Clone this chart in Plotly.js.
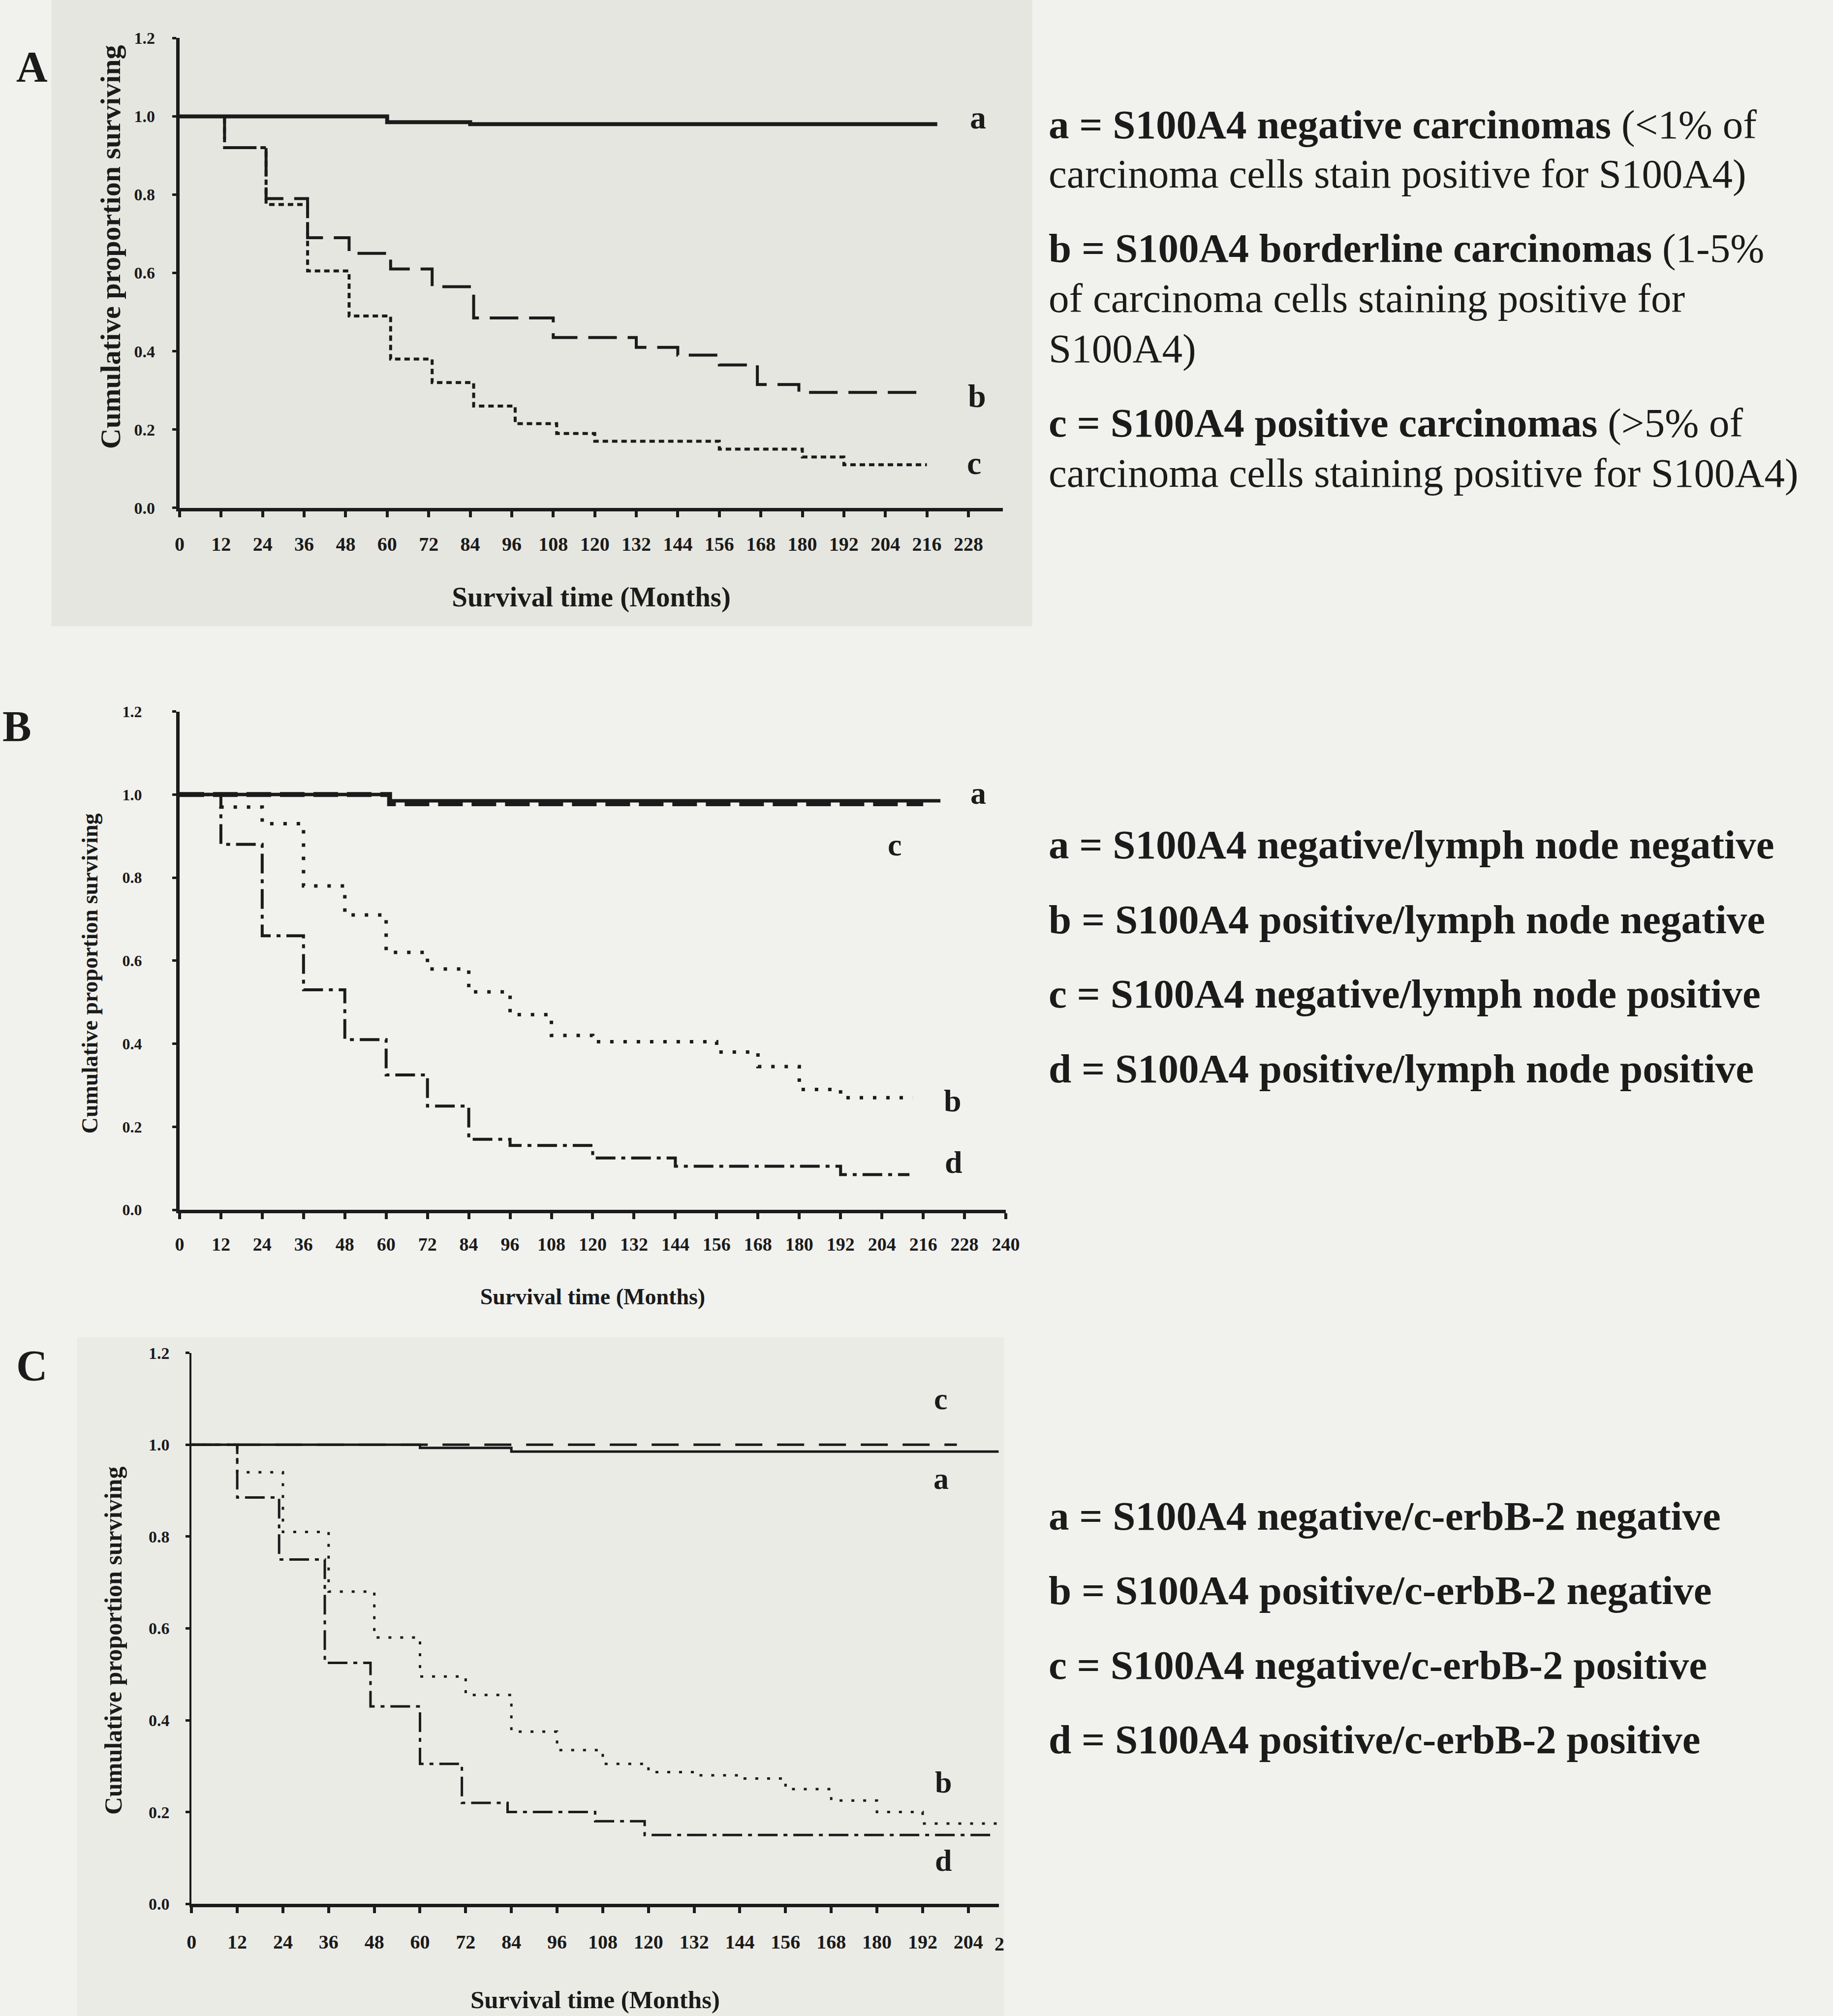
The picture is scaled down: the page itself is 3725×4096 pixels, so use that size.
<!DOCTYPE html>
<html><head><meta charset="utf-8">
<script src="https://cdn.plot.ly/plotly-3.0.1.min.js"></script>
<style>html,body{margin:0;padding:0;background:#f1f1ee;}#chart{width:3725px;height:4096px;}</style>
</head><body><div id="chart"></div>
<script>
// ---------- DATA ----------
// Panel A (months, cumulative proportion surviving)
var aA_t = [0, 60, 84, 219];
var aA_s = [1.0, 0.985, 0.98, 0.98];
var bA_t = [0, 13, 25, 37, 49, 61, 73, 85, 108, 132, 144, 156, 167, 179, 216];
var bA_s = [1.0, 0.92, 0.79, 0.69, 0.65, 0.61, 0.565, 0.485, 0.435, 0.41, 0.39, 0.365, 0.315, 0.295, 0.295];
var cA_t = [0, 13, 25, 37, 49, 61, 73, 85, 97, 109, 120, 156, 180, 192, 216];
var cA_s = [1.0, 0.92, 0.775, 0.605, 0.49, 0.38, 0.32, 0.26, 0.215, 0.19, 0.17, 0.15, 0.13, 0.11, 0.11];

// Panel B
var aB_t = [0, 61, 221];
var aB_s = [1.0, 0.985, 0.985];
var cB_t = [0, 61, 216];
var cB_s = [1.0, 0.978, 0.978];
var bB_t = [0, 12, 24, 36, 48, 60, 72, 84, 96, 108, 120, 156, 168, 180, 192, 213];
var bB_s = [1.0, 0.97, 0.93, 0.78, 0.71, 0.62, 0.58, 0.525, 0.47, 0.42, 0.405, 0.38, 0.345, 0.29, 0.27, 0.27];
var dB_t = [0, 12, 24, 36, 48, 60, 72, 84, 96, 120, 144, 192, 212];
var dB_s = [1.0, 0.88, 0.66, 0.53, 0.41, 0.325, 0.25, 0.17, 0.155, 0.125, 0.105, 0.085, 0.085];

// Panel C
var aC_t = [0, 60, 84, 212];
var aC_s = [1.0, 0.993, 0.985, 0.985];
var cC_t = [0, 201];
var cC_s = [1.0, 1.0];
var bC_t = [0, 12, 24, 36, 48, 60, 72, 84, 96, 108, 120, 132, 144, 156, 168, 180, 192, 212];
var bC_s = [1.0, 0.94, 0.81, 0.68, 0.58, 0.495, 0.455, 0.375, 0.335, 0.305, 0.287, 0.28, 0.273, 0.25, 0.225, 0.2, 0.175, 0.175];
var dC_t = [0, 12, 23, 35, 47, 60, 71, 83, 106, 119, 210];
var dC_s = [1.0, 0.885, 0.75, 0.525, 0.43, 0.305, 0.22, 0.2, 0.18, 0.15, 0.15];

// Tick labels
var monthTicksA = [0, 12, 24, 36, 48, 60, 72, 84, 96, 108, 120, 132, 144, 156, 168, 180, 192, 204, 216, 228];
var monthTicksB = [0, 12, 24, 36, 48, 60, 72, 84, 96, 108, 120, 132, 144, 156, 168, 180, 192, 204, 216, 228, 240];
var monthTicksC = [0, 12, 24, 36, 48, 60, 72, 84, 96, 108, 120, 132, 144, 156, 168, 180, 192, 204];
var yTicks = [0, 0.2, 0.4, 0.6, 0.8, 1.0, 1.2];
var yTickText = ['0.0', '0.2', '0.4', '0.6', '0.8', '1.0', '1.2'];

// Texts
var xTitle = 'Survival time (Months)';
var yTitle = 'Cumulative proportion surviving';
var legendA = [
  '<b>a = S100A4 negative carcinomas</b> (&lt;1% of',
  'carcinoma cells stain positive for S100A4)',
  '<b>b = S100A4 borderline carcinomas</b> (1-5%',
  'of carcinoma cells staining positive for',
  'S100A4)',
  '<b>c = S100A4 positive carcinomas</b> (&gt;5% of',
  'carcinoma cells staining positive for S100A4)'
];
var legendB = [
  '<b>a = S100A4 negative/lymph node negative</b>',
  '<b>b = S100A4 positive/lymph node negative</b>',
  '<b>c = S100A4 negative/lymph node positive</b>',
  '<b>d = S100A4 positive/lymph node positive</b>'
];
var legendC = [
  '<b>a = S100A4 negative/c-erbB-2 negative</b>',
  '<b>b = S100A4 positive/c-erbB-2 negative</b>',
  '<b>c = S100A4 negative/c-erbB-2 positive</b>',
  '<b>d = S100A4 positive/c-erbB-2 positive</b>'
];

// ---------- LAYOUT HELPERS (reference coords 1426 x 1568 -> paper) ----------
function px(x) { return x / 1426; }
function py(y) { return 1 - y / 1568; }
var FONT = 'Liberation Serif, Times New Roman, serif';
var INK = '#1b1b1b';

function step(t, s, xa, ya, dash, width) {
  return {x: t, y: s, xaxis: xa, yaxis: ya, mode: 'lines', type: 'scatter',
          line: {shape: 'hv', color: INK, width: width, dash: dash},
          showlegend: false, hoverinfo: 'skip'};
}

var traces = [
  step(aA_t, aA_s, 'x', 'y', 'solid', 8),
  step(bA_t, bA_s, 'x', 'y', '58px,22px', 6),
  step(cA_t, cA_s, 'x', 'y', '11px,8px', 6),

  step(cB_t, cB_s, 'x2', 'y2', '50px,18px', 10),
  step(aB_t, aB_s, 'x2', 'y2', 'solid', 7),
  step(bB_t, bB_s, 'x2', 'y2', '7px,20px', 7),
  step(dB_t, dB_s, 'x2', 'y2', '40px,12px,8px,12px', 6),

  step(aC_t, aC_s, 'x3', 'y3', 'solid', 5),
  step(cC_t, cC_s, 'x3', 'y3', '55px,30px', 5),
  step(bC_t, bC_s, 'x3', 'y3', '6px,18px', 5),
  step(dC_t, dC_s, 'x3', 'y3', '40px,12px,8px,12px', 5)
];

function xAxis(domain, range, ticks, anchor, tickSize, titleSize, standoff, lblStandoff, lw) {
  return {domain: domain, range: range, anchor: anchor, tickvals: ticks,
          showline: true, linecolor: INK, linewidth: lw, showgrid: false, zeroline: false,
          ticks: 'outside', ticklen: 12, tickwidth: 6, tickcolor: INK,
          ticklabelstandoff: lblStandoff,
          tickfont: {family: FONT, size: tickSize, color: INK, weight: 'bold'},
          title: {text: xTitle, standoff: standoff, font: {family: FONT, size: titleSize, color: INK, weight: 'bold'}},
          fixedrange: true};
}
function yAxis(domain, anchor, tickSize, lblStandoff, lw) {
  return {domain: domain, range: [0, 1.2], anchor: anchor, tickvals: yTicks, ticktext: yTickText,
          showline: true, linecolor: INK, linewidth: lw, showgrid: false, zeroline: false,
          ticks: 'outside', ticklen: 8, tickwidth: 5, tickcolor: INK,
          ticklabelstandoff: lblStandoff,
          tickfont: {family: FONT, size: tickSize, color: INK, weight: 'bold'},
          fixedrange: true};
}

var annotations = [];
function txt(text, x, y, size, opts) {
  var a = {text: text, x: x, y: y, xref: 'paper', yref: 'paper', showarrow: false,
           xanchor: 'left', yanchor: 'middle', font: {family: FONT, size: size, color: INK}};
  for (var k in (opts || {})) a[k] = opts[k];
  annotations.push(a);
}
// Panel letters
txt('<b>A</b>', px(12), py(52), 88);
txt('<b>B</b>', px(1), py(565), 88);
txt('<b>C</b>', px(12), py(1062), 88);

// Y-axis titles (rotated)
txt('<b>' + yTitle + '</b>', px(86), py(192), 58, {xanchor: 'center', textangle: -90});
txt('<b>' + yTitle + '</b>', px(70), py(757), 46, {xanchor: 'center', textangle: -90});
txt('<b>' + yTitle + '</b>', px(88), py(1276), 50, {xanchor: 'center', textangle: -90});

// Right-hand descriptions
var yA = [97, 135, 193, 232, 271, 329, 368];
for (var i = 0; i < legendA.length; i++) txt(legendA[i], px(815), py(yA[i]), 83);
var yB = [657, 715, 773, 831];
for (var i = 0; i < legendB.length; i++) txt(legendB[i], px(815), py(yB[i]), 83);
var yC = [1179, 1237, 1295, 1353];
for (var i = 0; i < legendC.length; i++) txt(legendC[i], px(815), py(yC[i]), 83);

// Curve labels
function curveLabel(t, x, y, xr, yr, size) {
  annotations.push({text: '<b>' + t + '</b>', x: x, y: y, xref: xr, yref: yr, showarrow: false,
                    xanchor: 'center', yanchor: 'middle', font: {family: FONT, size: size, color: INK}});
}
curveLabel('a', 230.8, 0.998, 'x', 'y', 66);
curveLabel('b', 230.5, 0.286, 'x', 'y', 66);
curveLabel('c', 229.7, 0.115, 'x', 'y', 66);
curveLabel('a', 232, 1.003, 'x2', 'y2', 64);
curveLabel('c', 207.7, 0.879, 'x2', 'y2', 64);
curveLabel('b', 224.5, 0.263, 'x2', 'y2', 64);
curveLabel('d', 224.9, 0.115, 'x2', 'y2', 64);
curveLabel('c', 196.8, 1.10, 'x3', 'y3', 62);
curveLabel('a', 196.8, 0.926, 'x3', 'y3', 62);
curveLabel('b', 197.5, 0.265, 'x3', 'y3', 62);
curveLabel('d', 197.5, 0.095, 'x3', 'y3', 62);
// clipped tick label at right edge of panel C
txt('<b>2</b>', px(773), py(1512), 40);

var layout = {
  width: 3725, height: 4096,
  margin: {l: 0, r: 0, t: 0, b: 0},
  paper_bgcolor: '#f1f1ee', plot_bgcolor: 'rgba(0,0,0,0)',
  showlegend: false,
  xaxis: xAxis([px(139.7), px(780.3)], [0, 238], monthTicksA, 'y', 40, 57, 68, 20, 7),
  yaxis: yAxis([py(395), py(29.6)], 'x', 34, 28, 7),
  xaxis2: xAxis([px(139.7), px(782.5)], [0, 240], monthTicksB, 'y2', 38, 46, 73, 18, 7),
  yaxis2: yAxis([py(941), py(553.4)], 'x2', 32, 55, 7),
  xaxis3: xAxis([px(149), px(777)], [0, 212], monthTicksC, 'y3', 40, 51, 80, 24, 7),
  yaxis3: yAxis([py(1480.8), py(1052.2)], 'x3', 34, 26, 4),
  shapes: [
    {type: 'rect', xref: 'paper', yref: 'paper', x0: px(40), x1: px(803), y0: py(487), y1: 1,
     fillcolor: '#e6e6e0', line: {width: 0}, layer: 'below'},
    {type: 'rect', xref: 'paper', yref: 'paper', x0: px(60), x1: px(781), y0: 0, y1: py(1040),
     fillcolor: '#ebebe6', line: {width: 0}, layer: 'below'}
  ],
  annotations: annotations
};

Plotly.newPlot('chart', traces, layout, {staticPlot: true, displayModeBar: false});
</script></body></html>
